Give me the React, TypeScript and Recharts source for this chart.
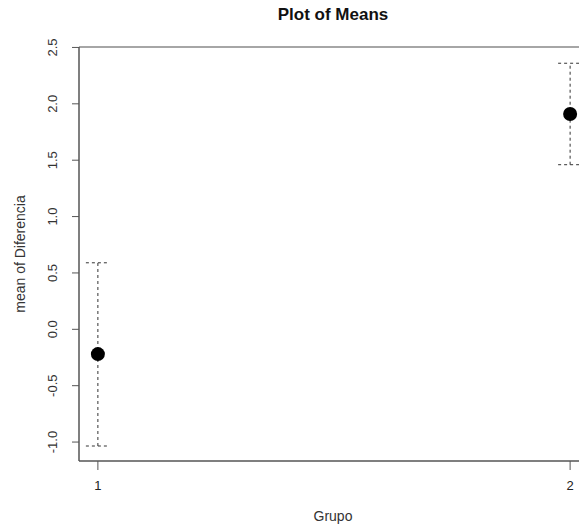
import { ComposedChart, Scatter, ErrorBar, XAxis, YAxis, ReferenceLine } from "recharts";

// group positions, means and confidence limits
const GROUPS = [1, 2];
const MEANS = [-0.22, 1.91];
const LOWER = [-1.035, 1.46];
const UPPER = [0.59, 2.36];
const Y_TICKS = [-1.0, -0.5, 0.0, 0.5, 1.0, 1.5, 2.0, 2.5];
const X_TICKS = [1, 2];

const Y_MIN = -1.168;
const Y_MAX = 2.504;
const FONT = "Liberation Sans, Arial, sans-serif";
const AXIS = "#555";

const rows = GROUPS.map((g, i) => ({
  grupo: g,
  mean: MEANS[i],
  err: [MEANS[i] - LOWER[i], UPPER[i] - MEANS[i]],
}));

function YTick({ x, y, payload }: any) {
  return (
    <text
      x={x - 13}
      y={y}
      transform={`rotate(-90 ${x - 13} ${y})`}
      textAnchor="middle"
      fontSize={13}
      fontFamily={FONT}
      fill="#333"
      stroke="none"
    >
      {Number(payload.value).toFixed(1)}
    </text>
  );
}

function XTick({ x, y, payload }: any) {
  return (
    <text x={x} y={y + 18} textAnchor="middle" fontSize={13} fontFamily={FONT} fill="#222" stroke="none">
      {payload.value}
    </text>
  );
}

const Dot = ({ cx, cy }: any) => <circle cx={cx} cy={cy} r={7} fill="#000" />;

export default function App() {
  return (
    <div style={{ position: "fixed", left: 0, top: 0, width: 579, height: 527, overflow: "hidden", background: "#fff" }}>
      <ComposedChart width={600} height={527} data={rows} margin={{ left: 0, right: 11, top: 47, bottom: 36 }}>
        <XAxis
          type="number"
          dataKey="grupo"
          domain={[0.96, 2.04]}
          ticks={X_TICKS}
          allowDataOverflow
          height={30}
          tick={<XTick />}
          tickSize={9}
          stroke={AXIS}
          tickLine={{ stroke: AXIS }}
          axisLine={{ stroke: AXIS, strokeWidth: 1.5 }}
        />
        <YAxis
          type="number"
          domain={[Y_MIN, Y_MAX]}
          ticks={Y_TICKS}
          allowDataOverflow
          width={79}
          tick={<YTick />}
          tickSize={7}
          stroke={AXIS}
          tickLine={{ stroke: AXIS }}
          axisLine={{ stroke: AXIS, strokeWidth: 1.5 }}
        />
        <ReferenceLine y={Y_MAX} stroke="#888" strokeWidth={1.5} />
        <Scatter dataKey="mean" shape={<Dot />} isAnimationActive={false}>
          <ErrorBar dataKey="err" width={12} stroke="#333" strokeWidth={1} strokeDasharray="3 3" isAnimationActive={false} />
        </Scatter>
        <text x={333} y={20} textAnchor="middle" fontSize={17} fontWeight="bold" fontFamily={FONT} fill="#111">
          Plot of Means
        </text>
        <text x={333} y={521} textAnchor="middle" fontSize={14} fontFamily={FONT} fill="#333">
          Grupo
        </text>
        <text x={25} y={254} transform="rotate(-90 25 254)" textAnchor="middle" fontSize={14} fontFamily={FONT} fill="#333">
          mean of Diferencia
        </text>
      </ComposedChart>
    </div>
  );
}
